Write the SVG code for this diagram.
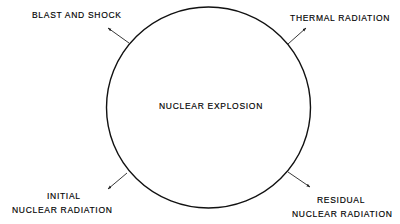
<svg xmlns="http://www.w3.org/2000/svg" width="400" height="224" viewBox="0 0 400 224">
<style>
.t{font-family:"Liberation Sans",Arial,sans-serif;font-size:8.5px;letter-spacing:0.7px;fill:#000;stroke:#000;stroke-width:0.15}
.c{fill:none;stroke:#111;stroke-width:1.4}
.a{stroke:#222;stroke-width:0.9;fill:none;marker-end:url(#ah)}
</style>
<defs>
<marker id="ah" viewBox="0 0 10 10" refX="9" refY="5" markerWidth="4" markerHeight="4" orient="auto" markerUnits="userSpaceOnUse">
<path d="M0,1.5 L10,5 L0,8.5 Z" fill="#222"/>
</marker>
</defs>
<rect width="400" height="224" fill="#fff"/>
<g id="explosion">
<ellipse class="c" cx="208.5" cy="107.5" rx="102" ry="100.5"/>
<text class="t" x="159" y="109.3">NUCLEAR EXPLOSION</text>
</g>
<g id="connectors">
<line class="a" x1="129" y1="43" x2="108" y2="28"/>
<line class="a" x1="288" y1="44" x2="306" y2="28"/>
<line class="a" x1="127" y1="173" x2="108" y2="189"/>
<line class="a" x1="288" y1="172" x2="310" y2="187"/>
</g>
<g id="blast">
<text class="t" x="32" y="18.3">BLAST AND SHOCK</text>
</g>
<g id="thermal">
<text class="t" x="290" y="20.5">THERMAL RADIATION</text>
</g>
<g id="initial">
<text class="t" x="47" y="199.3">INITIAL</text>
<text class="t" x="12" y="213.3">NUCLEAR RADIATION</text>
</g>
<g id="residual">
<text class="t" x="317" y="203.3">RESIDUAL</text>
<text class="t" x="292" y="216.7">NUCLEAR RADIATION</text>
</g>
</svg>
